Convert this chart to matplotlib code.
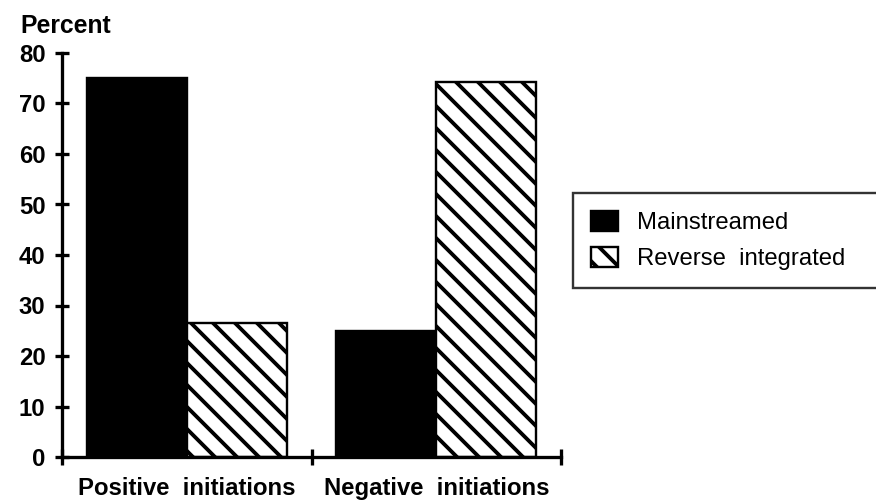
#!/usr/bin/env python

import numpy as np
import matplotlib
matplotlib.use('Agg')
import matplotlib.pyplot as plt
import matplotlib as mlp

DPI = 132
mlp.rcParams['font.family'] = ['Liberation Sans', 'DejaVu Sans']
mlp.rcParams['hatch.linewidth'] = 2.1
mlp.rcParams['hatch.color'] = 'black'

# data
categories = ['Positive  initiations', 'Negative  initiations']
mainstreamed = [75, 25]
reverse_integrated = [26.5, 74.3]
series_names = ['Mainstreamed', 'Reverse  integrated']
yticks = [0, 10, 20, 30, 40, 50, 60, 70, 80]

fig = plt.figure(figsize=(876/DPI, 504/DPI), dpi=DPI)
ax = fig.add_axes([62/876, 1-457/504, (561-62)/876, (457-53)/504])

x = np.arange(len(categories))
w = 0.4
ax.bar(x - w/2, mainstreamed, w, color='black', edgecolor='black',
       linewidth=1.3, label=series_names[0])
ax.bar(x + w/2, reverse_integrated, w, color='white', edgecolor='black',
       linewidth=1.3, hatch='\\\\', label=series_names[1])

ax.set_xlim(-0.5, 1.5)
ax.set_ylim(0, 80)
ax.set_yticks(yticks)
ax.set_yticklabels([str(t) for t in yticks], fontsize=13, fontweight='bold')
ax.set_xticks([-0.5, 0.5, 1.5], minor=False)
ax.set_xticklabels(['', '', ''])
ax.set_xticks(x, minor=True)
ax.set_xticklabels(categories, minor=True, fontsize=13, fontweight='bold')
ax.tick_params(axis='x', which='minor', length=0, pad=11)
ax.tick_params(axis='x', which='major', direction='inout', length=9, width=1.8)
ax.tick_params(axis='y', direction='inout', length=8, width=1.8, pad=5)

for s in ['top', 'right']:
    ax.spines[s].set_visible(False)
for s in ['left', 'bottom']:
    ax.spines[s].set_linewidth(1.8)

fig.text(20/876, 1-26/504, 'Percent', fontsize=13.5, fontweight='bold', va='center')

# legend box runs off the right edge like in the scan
leg = fig.legend(loc='upper left', bbox_to_anchor=(573/876, 0, 400/876, 1-193/504),
                 mode='expand', fontsize=13, frameon=True, fancybox=False,
                 handlelength=1.15, handleheight=0.9, handletextpad=0.8,
                 borderpad=0.75, labelspacing=0.55, borderaxespad=0)
leg.get_frame().set_edgecolor('black')
leg.get_frame().set_linewidth(1.3)

plt.savefig('out.png', dpi=DPI)
